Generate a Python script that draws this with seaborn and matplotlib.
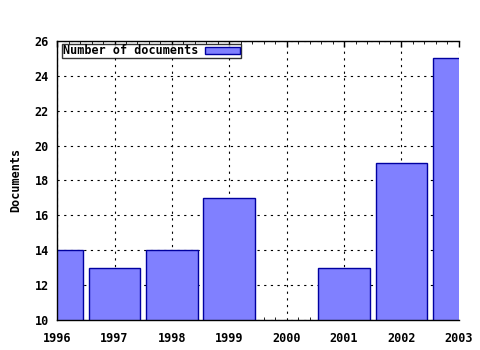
import matplotlib
matplotlib.use("Agg")
import matplotlib.pyplot as plt
import seaborn as sns
import pandas as pd
import numpy as np
from matplotlib.ticker import MultipleLocator

years = [1996, 1997, 1998, 1999, 2000, 2001, 2002, 2003]
documents = [14, 13, 14, 17, 0, 13, 19, 25]
series_label = "Number of documents"

sns.set_style("white")
plt.rcParams['font.family'] = ['DejaVu Sans Mono', 'DejaVu Sans']
plt.rcParams['font.weight'] = 'bold'
plt.rcParams['text.color'] = 'black'
plt.rcParams['axes.labelcolor'] = 'black'
plt.rcParams['xtick.color'] = 'black'
plt.rcParams['ytick.color'] = 'black'

df = pd.DataFrame({"year": years, "docs": documents})

fig = plt.figure(figsize=(4.8, 3.5), dpi=100)
ax = fig.add_axes([0.119, 0.086, 0.837, 0.797])

sns.barplot(data=df, x="year", y="docs", native_scale=True, width=0.9,
            color="#8080FF", saturation=1, edgecolor="#0000A0", linewidth=1,
            label=series_label, ax=ax, zorder=2)

ax.set_xlim(1996, 2003)
ax.set_ylim(10, 26)
ax.xaxis.set_minor_locator(MultipleLocator(0.2))
ax.yaxis.set_major_locator(MultipleLocator(2))
ax.set_xticks(years)
ax.set_xticklabels([str(y) for y in years])
ax.grid(True, which="major", color="black", linestyle=(0, (2, 4)), linewidth=0.8, zorder=0)
ax.set_axisbelow(True)
ax.tick_params(axis="both", which="major", direction="in", length=4, labelsize=8.5, width=1,
               top=True, colors="black")
ax.tick_params(axis="x", which="major", pad=9)
ax.tick_params(axis="y", which="major", pad=6)
ax.tick_params(axis="x", which="minor", direction="in", length=2, top=True, bottom=True)
for lab in ax.get_xticklabels() + ax.get_yticklabels():
    lab.set_fontweight("bold")
    lab.set_color("black")
for s in ["left", "bottom", "top"]:
    ax.spines[s].set_visible(True)
    ax.spines[s].set_color("black")
    ax.spines[s].set_linewidth(1)
ax.spines["right"].set_visible(False)

ax.set_xlabel("")
ax.set_ylabel("Documents", fontsize=8.5, fontweight="bold", labelpad=9, color="black")

leg = ax.legend(loc="upper left", bbox_to_anchor=(0.012, 0.99), markerfirst=False,
                frameon=True, fancybox=False, fontsize=8.5, borderpad=0.05,
                handlelength=3.0, handleheight=0.5, handletextpad=0.6, borderaxespad=0)
leg.get_frame().set_edgecolor("black")
leg.get_frame().set_linewidth(1)
for t in leg.get_texts():
    t.set_fontweight("bold")
    t.set_color("black")

fig.savefig("out.png", dpi=100)
